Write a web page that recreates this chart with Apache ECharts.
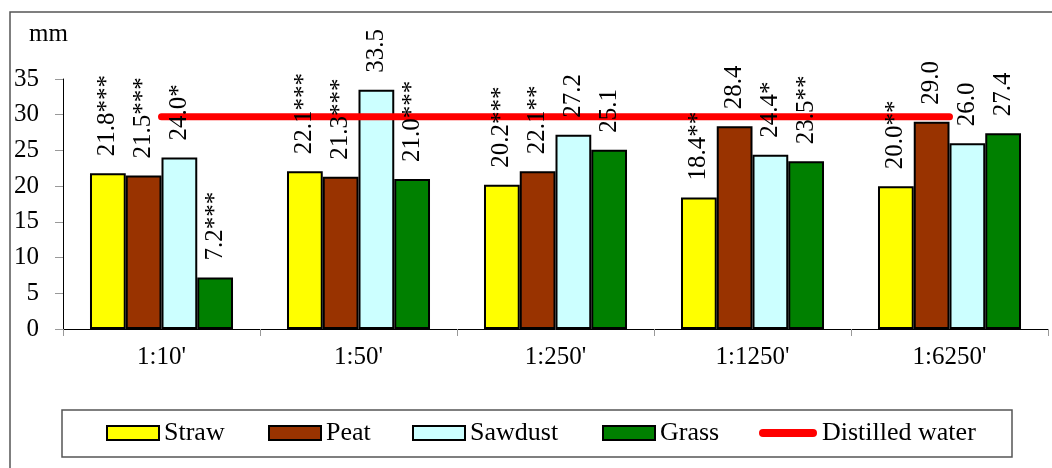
<!DOCTYPE html>
<html>
<head>
<meta charset="utf-8">
<script src="https://cdn.jsdelivr.net/npm/echarts@6/dist/echarts.min.js"></script>
<style>
html,body{margin:0;padding:0;background:#fff;}
#c{width:1052px;height:468px;}
</style>
</head>
<body>
<div id="c"></div>
<script>
const categories = ["1:10'", "1:50'", "1:250'", "1:1250'", "1:6250'"];
const straw = [21.8, 22.1, 20.2, 18.4, 20.0];
const peat = [21.5, 21.3, 22.1, 28.4, 29.0];
const sawdust = [24.0, 33.5, 27.2, 24.4, 26.0];
const grass = [7.2, 21.0, 25.1, 23.5, 27.4];
const water = [29.7, 29.7, 29.7, 29.7, 29.7];
const strawStars = ['***', '***', '***', '**', '**'];
const peatStars = ['***', '***', '**', '', ''];
const sawdustStars = ['*', '', '', '*', ''];
const grassStars = ['***', '***', '', '**', ''];
const yTicks = [0, 5, 10, 15, 20, 25, 30, 35];
const legendNames = ['Straw', 'Peat', 'Sawdust', 'Grass', 'Distilled water'];

const FONT = '"Liberation Serif", "Times New Roman", serif';
const FS = 25;
const LFS = 26;
const GAP = '27.4%';

const barDefs = [
  {name: 'Straw', data: straw, stars: strawStars, color: '#FFFF00'},
  {name: 'Peat', data: peat, stars: peatStars, color: '#993300'},
  {name: 'Sawdust', data: sawdust, stars: sawdustStars, color: '#CCFFFF'},
  {name: 'Grass', data: grass, stars: grassStars, color: '#008000'}
];

const series = [];
barDefs.forEach(d => {
  series.push({
    name: d.name, type: 'bar', xAxisIndex: 0, data: d.data,
    barGap: '0%', barCategoryGap: GAP, z: 2,
    itemStyle: {color: d.color, borderColor: '#000', borderWidth: 2},
    emphasis: {disabled: true}
  });
});
series.push({
  name: 'Distilled water', type: 'line', xAxisIndex: 0, data: water,
  symbol: 'none', z: 3,
  lineStyle: {color: '#FF0000', width: 7, cap: 'round'},
  itemStyle: {color: '#FF0000'},
  emphasis: {disabled: true}
});
barDefs.forEach(d => {
  series.push({
    name: d.name + ' label', type: 'bar', xAxisIndex: 1, data: d.data,
    barGap: '0%', barCategoryGap: GAP, z: 4,
    itemStyle: {color: 'rgba(0,0,0,0)', borderWidth: 0},
    emphasis: {disabled: true},
    label: {
      show: true, position: 'top', rotate: 90, align: 'left', verticalAlign: 'middle',
      distance: 17, color: '#000', fontFamily: FONT, fontSize: FS,
      formatter: p => p.value.toFixed(1) + d.stars[p.dataIndex]
    }
  });
});

const legendLefts = [106, 268, 412, 602, 759];
const legends = legendNames.map((n, i) => {
  const isLine = i === 4;
  return {
    left: legendLefts[i], top: 420, padding: 0, selectedMode: false,
    itemWidth: isLine ? 58 : 52, itemHeight: 14,
    textStyle: {color: '#000', fontFamily: FONT, fontSize: LFS},
    data: [isLine
      ? {name: n, icon: 'path://M4,0 L54,0 A4,4 0 0 1 54,8 L4,8 A4,4 0 0 1 4,0 Z',
         itemStyle: {color: '#FF0000', borderWidth: 0}}
      : {name: n, icon: 'rect'}]
  };
});

const chart = echarts.init(document.getElementById('c'), null, {renderer: 'canvas'});
chart.setOption({
  animation: false,
  backgroundColor: '#fff',
  grid: {left: 63, right: 4, top: 79, bottom: 139, containLabel: false},
  xAxis: [{
    type: 'category', data: categories, position: 'bottom',
    axisLine: {lineStyle: {color: '#000', width: 1}},
    axisTick: {show: true, length: 7, lineStyle: {color: '#999', width: 1}},
    axisLabel: {color: '#000', fontFamily: FONT, fontSize: FS, margin: 16}
  }, {
    type: 'category', data: categories, show: false
  }],
  yAxis: {
    type: 'value', min: yTicks[0], max: yTicks[yTicks.length - 1], interval: 5,
    splitLine: {show: false},
    axisLine: {show: true, lineStyle: {color: '#000', width: 1}},
    axisTick: {show: true, length: 8, lineStyle: {color: '#999', width: 1}},
    axisLabel: {color: '#000', fontFamily: FONT, fontSize: FS, margin: 24}
  },
  legend: legends,
  graphic: [
    {type: 'rect', silent: true, z: -10, shape: {x: 10, y: 12, width: 1100, height: 500},
     style: {fill: 'none', stroke: '#555', lineWidth: 1.5}},
    {type: 'rect', silent: true, z: -10, shape: {x: 62, y: 410, width: 950, height: 47},
     style: {fill: 'none', stroke: '#555', lineWidth: 1.5}},
    {type: 'text', silent: true, x: 29, y: 34,
     style: {text: 'mm', fill: '#000', font: FS + 'px ' + FONT, verticalAlign: 'middle', align: 'left'}}
  ],
  series: series
});
</script>
</body>
</html>
